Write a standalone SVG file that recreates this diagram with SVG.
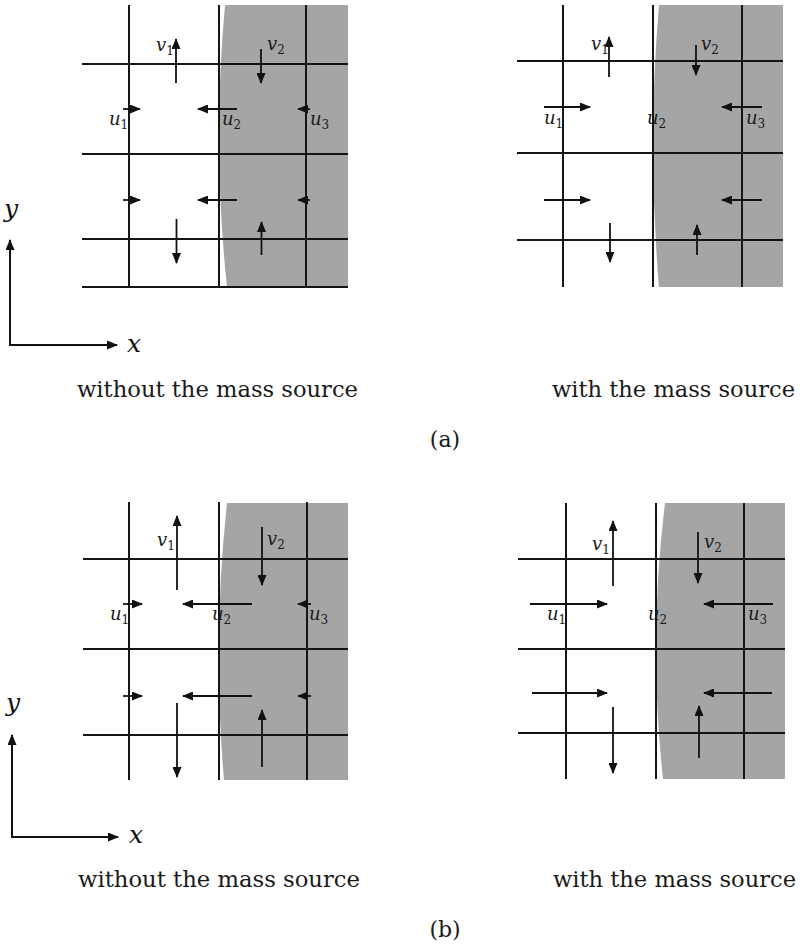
<svg xmlns="http://www.w3.org/2000/svg" width="802" height="947" viewBox="0 0 802 947">
<defs>
<marker id="ah" markerUnits="userSpaceOnUse" markerWidth="11" markerHeight="9" refX="10" refY="4.5" orient="auto">
<path d="M0,0 L11,4.5 L0,9 Z" fill="#111"/>
</marker>
<style>
.grid{stroke:#151515;stroke-width:2;fill:none}
.shade{fill:#a5a5a5;stroke:none}
.arr{stroke:#111;stroke-width:1.8;fill:none;marker-end:url(#ah)}
.ax{stroke:#111;stroke-width:2;fill:none;marker-end:url(#ah)}
.lab{font-family:'DejaVu Serif',serif;font-style:italic;font-size:18px;fill:#1a1a1a}
.sub{font-size:12px;font-style:normal}
.axl{font-family:'DejaVu Serif',serif;font-style:italic;font-size:25px;fill:#111}
.cap{font-family:'DejaVu Serif',serif;font-size:22px;fill:#1a1a1a}
</style>
</defs>
<rect width="802" height="947" fill="#fff"/>

<g id="panel-a-left">
<path class="shade" d="M225,5 Q212,146 227,287 L348,287 L348,5 Z"/>
<g class="grid">
<line x1="129" y1="5" x2="129" y2="287"/>
<line x1="219" y1="5" x2="219" y2="287"/>
<line x1="306" y1="5" x2="306" y2="287"/>
<line x1="82" y1="64" x2="348" y2="64"/>
<line x1="82" y1="154" x2="348" y2="154"/>
<line x1="82" y1="239" x2="348" y2="239"/>
<line x1="82" y1="287" x2="348" y2="287"/>
</g>
<g id="arrows-a-left">
<line class="arr" x1="176" y1="83" x2="176" y2="39"/>
<line class="arr" x1="261" y1="49" x2="261" y2="83"/>
<line class="arr" x1="123" y1="109" x2="140" y2="109"/>
<line class="arr" x1="237" y1="109" x2="198" y2="109"/>
<line class="arr" x1="310" y1="109" x2="298" y2="109"/>
<line class="arr" x1="123" y1="200" x2="140" y2="200"/>
<line class="arr" x1="237" y1="200" x2="198" y2="200"/>
<line class="arr" x1="310" y1="200" x2="298" y2="200"/>
<line class="arr" x1="176.5" y1="219" x2="176.5" y2="263"/>
<line class="arr" x1="261.5" y1="255" x2="261.5" y2="222"/>
</g>
<text class="lab" x="156" y="51">v<tspan class="sub" dy="4">1</tspan></text>
<text class="lab" x="267" y="50">v<tspan class="sub" dy="4">2</tspan></text>
<text class="lab" x="109" y="125">u<tspan class="sub" dy="4">1</tspan></text>
<text class="lab" x="222" y="125">u<tspan class="sub" dy="4">2</tspan></text>
<text class="lab" x="310" y="125">u<tspan class="sub" dy="4">3</tspan></text>
</g>

<g id="panel-a-right">
<path class="shade" d="M659,5 Q647,146 659,287 L783,287 L783,5 Z"/>
<g class="grid">
<line x1="563" y1="5" x2="563" y2="287"/>
<line x1="653" y1="5" x2="653" y2="287"/>
<line x1="742" y1="5" x2="742" y2="287"/>
<line x1="517" y1="61" x2="783" y2="61"/>
<line x1="517" y1="153" x2="783" y2="153"/>
<line x1="517" y1="240" x2="783" y2="240"/>
</g>
<g id="arrows-a-right">
<line class="arr" x1="609" y1="77" x2="609" y2="37"/>
<line class="arr" x1="696" y1="45" x2="696" y2="75"/>
<line class="arr" x1="544" y1="107" x2="590" y2="107"/>
<line class="arr" x1="762" y1="107" x2="722" y2="107"/>
<line class="arr" x1="544" y1="200" x2="590" y2="200"/>
<line class="arr" x1="762" y1="200" x2="722" y2="200"/>
<line class="arr" x1="610" y1="223" x2="610" y2="262"/>
<line class="arr" x1="697" y1="255" x2="697" y2="225"/>
</g>
<text class="lab" x="591" y="50">v<tspan class="sub" dy="4">1</tspan></text>
<text class="lab" x="701" y="50">v<tspan class="sub" dy="4">2</tspan></text>
<text class="lab" x="544" y="124">u<tspan class="sub" dy="4">1</tspan></text>
<text class="lab" x="647" y="124">u<tspan class="sub" dy="4">2</tspan></text>
<text class="lab" x="746" y="124">u<tspan class="sub" dy="4">3</tspan></text>
</g>

<g id="axes-a">
<line class="ax" x1="10" y1="345" x2="10" y2="240"/>
<line class="ax" x1="9" y1="345" x2="117" y2="345"/>
<text class="axl" x="4" y="217">y</text>
<text class="axl" x="127" y="352">x</text>
</g>

<g id="captions-a">
<text class="cap" x="77" y="397" textLength="281" lengthAdjust="spacingAndGlyphs">without the mass source</text>
<text class="cap" x="552" y="397" textLength="243" lengthAdjust="spacingAndGlyphs">with the mass source</text>
<text class="cap" x="445" y="447" text-anchor="middle">(a)</text>
</g>

<g id="panel-b-left">
<path class="shade" d="M227,503 Q212,641 224,780 L348,780 L348,503 Z"/>
<g class="grid">
<line x1="129" y1="502" x2="129" y2="780"/>
<line x1="219" y1="502" x2="219" y2="780"/>
<line x1="307" y1="502" x2="307" y2="780"/>
<line x1="83" y1="559" x2="348" y2="559"/>
<line x1="83" y1="649" x2="348" y2="649"/>
<line x1="83" y1="735" x2="348" y2="735"/>
</g>
<g id="arrows-b-left">
<line class="arr" x1="177" y1="590" x2="177" y2="516"/>
<line class="arr" x1="262" y1="527" x2="262" y2="585"/>
<line class="arr" x1="123" y1="604" x2="142" y2="604"/>
<line class="arr" x1="252" y1="604" x2="183" y2="604"/>
<line class="arr" x1="311" y1="604" x2="298" y2="604"/>
<line class="arr" x1="123" y1="696" x2="142" y2="696"/>
<line class="arr" x1="252" y1="696" x2="183" y2="696"/>
<line class="arr" x1="311" y1="696" x2="298" y2="696"/>
<line class="arr" x1="177" y1="703" x2="177" y2="777"/>
<line class="arr" x1="262" y1="767" x2="262" y2="710"/>
</g>
<text class="lab" x="157" y="546">v<tspan class="sub" dy="4">1</tspan></text>
<text class="lab" x="267" y="545">v<tspan class="sub" dy="4">2</tspan></text>
<text class="lab" x="110" y="620">u<tspan class="sub" dy="4">1</tspan></text>
<text class="lab" x="212" y="620">u<tspan class="sub" dy="4">2</tspan></text>
<text class="lab" x="309" y="620">u<tspan class="sub" dy="4">3</tspan></text>
</g>

<g id="panel-b-right">
<path class="shade" d="M665,503 Q648,641 663,779 L785,779 L785,503 Z"/>
<g class="grid">
<line x1="566" y1="503" x2="566" y2="779"/>
<line x1="656" y1="503" x2="656" y2="779"/>
<line x1="744" y1="503" x2="744" y2="779"/>
<line x1="518" y1="559" x2="785" y2="559"/>
<line x1="518" y1="649" x2="785" y2="649"/>
<line x1="518" y1="733" x2="785" y2="733"/>
</g>
<g id="arrows-b-right">
<line class="arr" x1="613" y1="586" x2="613" y2="521"/>
<line class="arr" x1="698" y1="532" x2="698" y2="583"/>
<line class="arr" x1="530" y1="604" x2="607" y2="604"/>
<line class="arr" x1="773" y1="604" x2="704" y2="604"/>
<line class="arr" x1="532" y1="693" x2="607" y2="693"/>
<line class="arr" x1="772" y1="693" x2="704" y2="693"/>
<line class="arr" x1="613" y1="707" x2="613" y2="773"/>
<line class="arr" x1="699" y1="758" x2="699" y2="706"/>
</g>
<text class="lab" x="592" y="550">v<tspan class="sub" dy="4">1</tspan></text>
<text class="lab" x="704" y="548">v<tspan class="sub" dy="4">2</tspan></text>
<text class="lab" x="547" y="620">u<tspan class="sub" dy="4">1</tspan></text>
<text class="lab" x="648" y="620">u<tspan class="sub" dy="4">2</tspan></text>
<text class="lab" x="748" y="620">u<tspan class="sub" dy="4">3</tspan></text>
</g>

<g id="axes-b">
<line class="ax" x1="12" y1="837" x2="12" y2="735"/>
<line class="ax" x1="11" y1="837" x2="118" y2="837"/>
<text class="axl" x="6" y="711">y</text>
<text class="axl" x="129" y="843">x</text>
</g>

<g id="captions-b">
<text class="cap" x="78" y="887" textLength="282" lengthAdjust="spacingAndGlyphs">without the mass source</text>
<text class="cap" x="553" y="887" textLength="243" lengthAdjust="spacingAndGlyphs">with the mass source</text>
<text class="cap" x="445" y="937" text-anchor="middle">(b)</text>
</g>
</svg>
